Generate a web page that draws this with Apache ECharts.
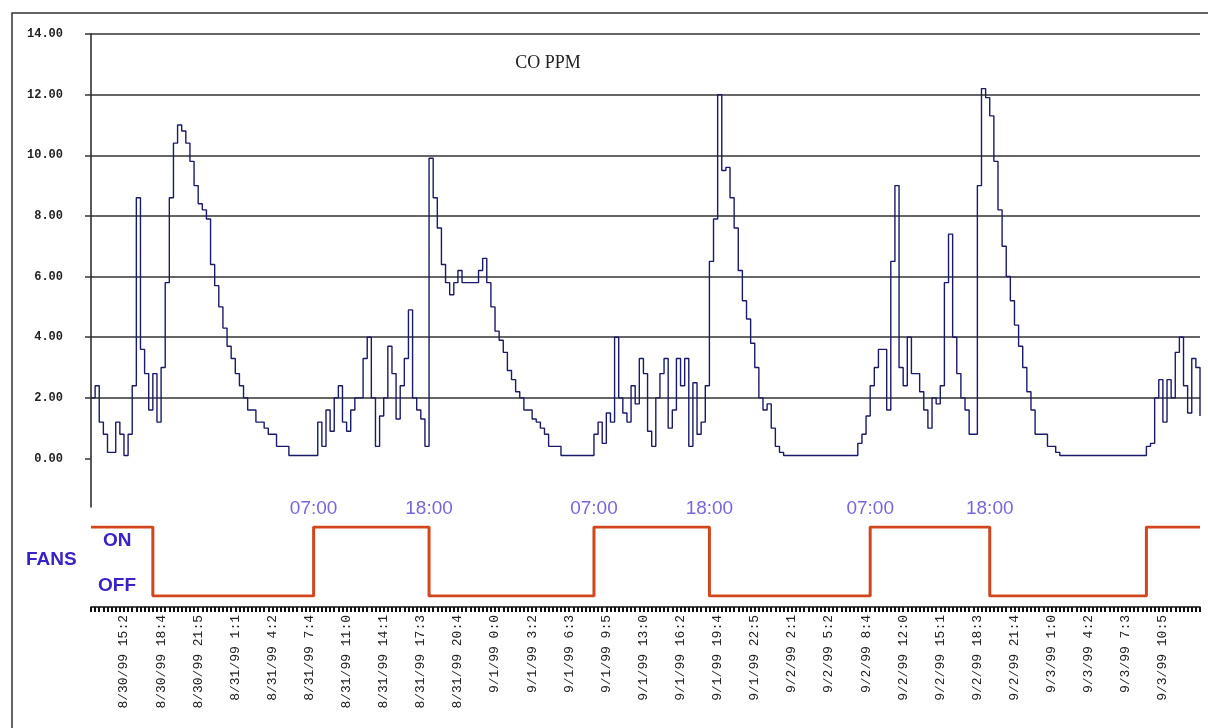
<!DOCTYPE html>
<html>
<head>
<meta charset="utf-8">
<script src="https://cdn.jsdelivr.net/npm/echarts@6/dist/echarts.min.js"></script>
<style>
html,body{margin:0;padding:0;background:#fff;}
#chart{width:1208px;height:728px;}
</style>
</head>
<body>
<div id="chart"></div>
<script>
// CO concentration (ppm), one value per sample
const coValues = [
  2.0,2.4,1.2,0.8,0.2,0.2,1.2,0.8,0.1,0.8,
  2.4,8.6,3.6,2.8,1.6,2.8,1.2,3.0,5.8,8.6,
  10.4,11.0,10.8,10.4,9.8,9.0,8.4,8.2,7.9,6.4,
  5.7,5.0,4.3,3.7,3.3,2.8,2.4,2.0,1.6,1.6,
  1.2,1.2,1.0,0.8,0.8,0.4,0.4,0.4,0.1,0.1,
  0.1,0.1,0.1,0.1,0.1,1.2,0.4,1.6,0.9,2.0,
  2.4,1.2,0.9,1.6,2.0,2.0,3.3,4.0,2.0,0.4,
  1.4,2.0,3.7,2.8,1.3,2.4,3.3,4.9,2.0,1.6,
  1.3,0.4,9.9,8.6,7.6,6.4,5.8,5.4,5.8,6.2,
  5.8,5.8,5.8,5.8,6.2,6.6,5.8,5.0,4.2,3.9,
  3.5,2.9,2.6,2.2,2.0,1.6,1.6,1.3,1.2,1.0,
  0.8,0.4,0.4,0.4,0.1,0.1,0.1,0.1,0.1,0.1,
  0.1,0.1,0.8,1.2,0.5,1.5,1.2,4.0,2.0,1.5,
  1.2,2.4,1.8,3.3,2.8,0.9,0.4,2.0,2.8,3.3,
  1.0,1.6,3.3,2.4,3.3,0.4,2.5,0.8,1.2,2.4,
  6.5,7.9,12.0,9.5,9.6,8.6,7.6,6.2,5.2,4.6,
  3.8,3.0,2.0,1.6,1.8,1.0,0.4,0.2,0.1,0.1,
  0.1,0.1,0.1,0.1,0.1,0.1,0.1,0.1,0.1,0.1,
  0.1,0.1,0.1,0.1,0.1,0.1,0.5,0.8,1.4,2.4,
  3.0,3.6,3.6,1.6,6.5,9.0,3.0,2.4,4.0,2.8,
  2.8,2.2,1.6,1.0,2.0,1.8,2.4,5.8,7.4,4.0,
  2.8,2.0,1.6,0.8,0.8,9.0,12.2,11.9,11.3,9.8,
  8.2,7.0,6.0,5.2,4.4,3.7,3.0,2.2,1.6,0.8,
  0.8,0.8,0.4,0.4,0.2,0.1,0.1,0.1,0.1,0.1,
  0.1,0.1,0.1,0.1,0.1,0.1,0.1,0.1,0.1,0.1,
  0.1,0.1,0.1,0.1,0.1,0.1,0.4,0.5,2.0,2.6,
  1.2,2.6,2.0,3.5,4.0,2.4,1.5,3.3,3.0,1.4
];

// time-axis tick labels (as printed, truncated), one every 9 samples starting at sample 8
const tickLabels = [
  "8/30/99 15:2","8/30/99 18:4","8/30/99 21:5","8/31/99 1:1","8/31/99 4:2",
  "8/31/99 7:4","8/31/99 11:0","8/31/99 14:1","8/31/99 17:3","8/31/99 20:4",
  "9/1/99 0:0","9/1/99 3:2","9/1/99 6:3","9/1/99 9:5","9/1/99 13:0",
  "9/1/99 16:2","9/1/99 19:4","9/1/99 22:5","9/2/99 2:1","9/2/99 5:2",
  "9/2/99 8:4","9/2/99 12:0","9/2/99 15:1","9/2/99 18:3","9/2/99 21:4",
  "9/3/99 1:0","9/3/99 4:2","9/3/99 7:3","9/3/99 10:5"
];
const tickFirst = 8;
const tickEvery = 9;

// y-axis tick values
const yTicks = [0, 2, 4, 6, 8, 10, 12, 14];

// fan schedule: sample index where the state starts, and the state (1 = ON, 0 = OFF)
const fanSwitchIdx = [0, 15, 54, 82, 122, 150, 189, 218, 256, 269];
const fanState     = [1, 0, 1, 0, 1, 0, 1, 0, 1, 1];

// switch-time annotations
const fanTimeIdx   = [54, 82, 122, 150, 189, 218];
const fanTimeText  = ["07:00", "18:00", "07:00", "18:00", "07:00", "18:00"];

const categories = coValues.map((_, i) => String(i));
const fanData = fanSwitchIdx.map((x, k) => [x, fanState[k]]);
const fanTimeData = fanTimeIdx.map(x => [x, 1]);

const chart = echarts.init(document.getElementById('chart'), null, {renderer: 'canvas'});

const option = {
  backgroundColor: '#ffffff',
  animation: false,
  grid: [
    {left: 91, right: 8, top: 34, height: 473},
    {left: 91, right: 8, top: 527, height: 69}
  ],
  xAxis: [
    {
      gridIndex: 0, type: 'category', data: categories, boundaryGap: false,
      show: false
    },
    {
      gridIndex: 1, type: 'category', data: categories, boundaryGap: false,
      position: 'bottom', offset: 11,
      axisLine: {show: true, onZero: false, lineStyle: {color: '#111', width: 1.5}},
      axisTick: {show: true, interval: 0, length: 5, lineStyle: {color: '#111', width: 2}},
      axisLabel: {
        show: true, rotate: 90, margin: 8,
        interval: (idx) => idx >= tickFirst && (idx - tickFirst) % tickEvery === 0,
        formatter: (val, idx) => {
          const j = (idx - tickFirst) / tickEvery;
          return tickLabels[j] || '';
        },
        fontFamily: '"Liberation Mono", monospace', fontSize: 13, color: '#222'
      },
      splitLine: {show: false}
    }
  ],
  yAxis: [
    {
      gridIndex: 0, type: 'value', min: -1.6, max: 14, splitNumber: 8,
      axisLine: {show: true, lineStyle: {color: '#222', width: 1.5}},
      axisTick: {show: true, length: 6, customValues: yTicks, lineStyle: {color: '#333', width: 1.5}},
      axisLabel: {
        show: true, margin: 28, customValues: yTicks,
        formatter: (v) => v < 0 ? '' : Number(v).toFixed(2),
        fontFamily: '"Liberation Mono", monospace', fontWeight: 'bold', fontSize: 12, color: '#222'
      },
      splitLine: {show: true, showMinLine: false, lineStyle: {color: '#333', width: 1.5}}
    },
    {
      gridIndex: 1, type: 'value', min: 0, max: 1, show: false
    }
  ],
  series: [
    {
      name: 'CO PPM', type: 'line', xAxisIndex: 0, yAxisIndex: 0,
      data: coValues, step: 'end', symbol: 'none',
      lineStyle: {color: '#1a1a6a', width: 1.4}
    },
    {
      name: 'FANS', type: 'line', xAxisIndex: 1, yAxisIndex: 1,
      data: fanData, step: 'end', symbol: 'none',
      lineStyle: {color: '#d2461e', width: 3}
    },
    {
      name: 'switch times', type: 'scatter', xAxisIndex: 1, yAxisIndex: 1,
      data: fanTimeData, symbolSize: 1,
      itemStyle: {color: 'rgba(0,0,0,0)'},
      label: {
        show: true, position: 'top', distance: 8,
        formatter: (p) => fanTimeText[p.dataIndex],
        fontFamily: '"Liberation Sans", Arial, sans-serif', fontSize: 19, color: '#5540d2'
      }
    }
  ],
  graphic: [
    {
      type: 'rect', silent: true,
      shape: {x: 12, y: 13, width: 1230, height: 760},
      style: {fill: 'none', stroke: '#333', lineWidth: 1.5}
    },
    {
      type: 'text', silent: true,
      style: {text: 'CO PPM', x: 548, y: 63, textAlign: 'center', textVerticalAlign: 'middle',
              align: 'center', verticalAlign: 'middle',
              font: '18px "Liberation Serif", serif', fill: '#222'}
    },
    {
      type: 'text', silent: true,
      style: {text: 'FANS', x: 26, y: 560, textAlign: 'left', textVerticalAlign: 'middle',
              align: 'left', verticalAlign: 'middle',
              font: 'bold 19px "Liberation Sans", Arial, sans-serif', fill: '#3723c8'}
    },
    {
      type: 'text', silent: true,
      style: {text: 'ON', x: 103, y: 541, textAlign: 'left', textVerticalAlign: 'middle',
              align: 'left', verticalAlign: 'middle',
              font: 'bold 19px "Liberation Sans", Arial, sans-serif', fill: '#3723c8'}
    },
    {
      type: 'text', silent: true,
      style: {text: 'OFF', x: 98, y: 586, textAlign: 'left', textVerticalAlign: 'middle',
              align: 'left', verticalAlign: 'middle',
              font: 'bold 19px "Liberation Sans", Arial, sans-serif', fill: '#3723c8'}
    }
  ]
};

chart.setOption(option);
</script>
</body>
</html>
